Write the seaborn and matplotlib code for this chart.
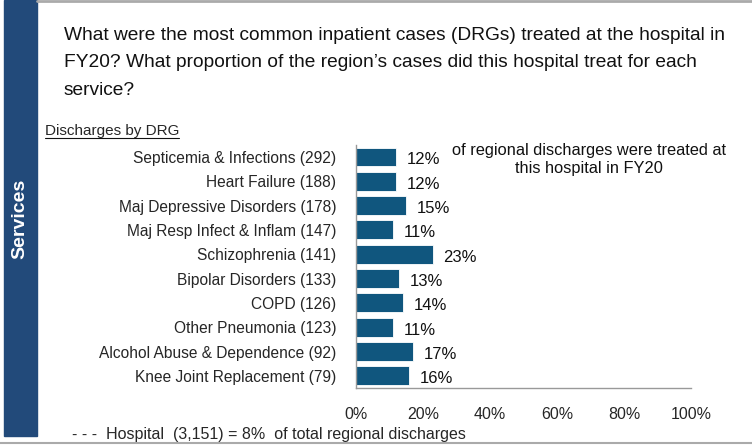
import matplotlib.pyplot as plt
import seaborn as sns
import pandas as pd
from matplotlib.lines import Line2D
from matplotlib.patches import Rectangle
from matplotlib.ticker import FixedLocator

# data
drgs = ['Septicemia & Infections (292)', 'Heart Failure (188)', 'Maj Depressive Disorders (178)',
        'Maj Resp Infect & Inflam (147)', 'Schizophrenia (141)', 'Bipolar Disorders (133)',
        'COPD (126)', 'Other Pneumonia (123)', 'Alcohol Abuse & Dependence (92)',
        'Knee Joint Replacement (79)']
share = [12, 12, 15, 11, 23, 13, 14, 11, 17, 16]
x_ticks = [0, 20, 40, 60, 80, 100]

df = pd.DataFrame({'drg': drgs, 'share': share})

sns.set_style("white")
plt.rcParams['font.family'] = ['Liberation Sans', 'DejaVu Sans']

fig = plt.figure(figsize=(7.52, 4.47), dpi=100)
ax = fig.add_axes([0.473, 0.132, 0.446, 0.544])

sns.barplot(data=df, x='share', y='drg', color='#10567e', width=0.78, ax=ax,
            saturation=1, edgecolor='white', linewidth=0.6)

ax.set_xlim(0, 100)
ax.set_ylim(len(drgs) - 0.5, -0.5)
ax.set_xlabel('')
ax.set_ylabel('')
ax.xaxis.set_major_locator(FixedLocator(x_ticks))
ax.set_xticklabels([f'{t}%' for t in x_ticks], fontsize=11.5)
ax.tick_params(axis='x', length=0, pad=14)
ax.tick_params(axis='y', which='major', length=0, pad=14, labelsize=11.2)
ax.yaxis.set_minor_locator(FixedLocator([i + 0.5 for i in range(-1, len(drgs))]))
ax.tick_params(axis='y', which='minor', length=4, color='#999999', width=0.8)
for s in ['top', 'right']:
    ax.spines[s].set_visible(False)
for s in ['left', 'bottom']:
    ax.spines[s].set_color('#999999')
    ax.spines[s].set_linewidth(1)

for i, v in enumerate(share):
    ax.text(v + 3.2, i + 0.12, f'{v}%', va='center', ha='left', fontsize=12, color='#111111')

ax.text(69.5, 0.1, 'of regional discharges were treated at\nthis hospital in FY20',
        ha='center', va='center', fontsize=11.8, linespacing=1.3, color='#111111')

# left band and frame lines
fig.patches.append(Rectangle((0.005, 0.025), 0.044, 0.975, transform=fig.transFigure,
                             color='#224a7a', zorder=0))
fig.text(0.027, 0.51, 'Services', rotation=90, ha='center', va='center', color='white',
         fontsize=14, fontweight='bold')
fig.lines.append(Line2D([0.049, 1], [0.997, 0.997], transform=fig.transFigure,
                        color='#aaaaaa', linewidth=2))
fig.lines.append(Line2D([0, 1], [0.009, 0.009], transform=fig.transFigure,
                        color='#aaaaaa', linewidth=1.5))

fig.text(0.085, 0.94,
         'What were the most common inpatient cases (DRGs) treated at the hospital in\n'
         'FY20? What proportion of the region\u2019s cases did this hospital treat for each\n'
         'service?', ha='left', va='top', fontsize=13.8, linespacing=1.82, color='#111111')

sub = fig.text(0.06, 0.697, 'Discharges by DRG', ha='left', va='baseline', fontsize=11)
fig.canvas.draw()
bb = sub.get_window_extent().transformed(fig.transFigure.inverted())
fig.lines.append(Line2D([bb.x0, bb.x1], [0.692, 0.692], transform=fig.transFigure,
                        color='#111111', linewidth=0.8))

fig.text(0.096, 0.018, '- - -  Hospital  (3,151) = 8%  of total regional discharges',
         ha='left', va='baseline', fontsize=11.5)

plt.savefig('out.png', dpi=100)
